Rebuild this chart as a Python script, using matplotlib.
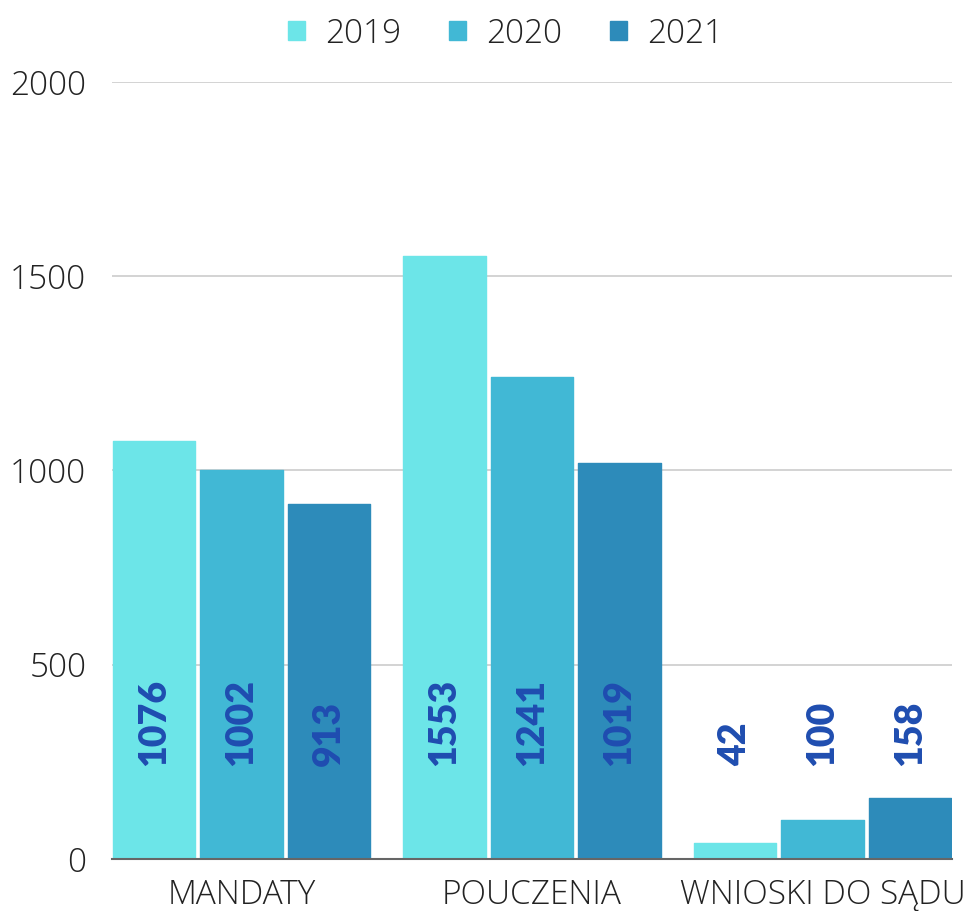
import matplotlib
matplotlib.use("Agg")
import matplotlib.pyplot as plt
import numpy as np

categories = ["MANDATY", "POUCZENIA", "WNIOSKI DO SĄDU"]
years = ["2019", "2020", "2021"]
values_2019 = [1076, 1553, 42]
values_2020 = [1002, 1241, 100]
values_2021 = [913, 1019, 158]
yticks = [0, 500, 1000, 1500, 2000]

colors = ["#6ce5e8", "#41b8d5", "#2d8bba"]
label_color = "#1f4db0"

plt.rcParams['font.family'] = ['Open Sans', 'DejaVu Sans']

fig = plt.figure(figsize=(9.67, 9.11), dpi=100)
ax = fig.add_axes([0.1158, 0.0571, 0.8687, 0.8529])

x = np.arange(len(categories))
step = 0.301
width = 0.285
series = [values_2019, values_2020, values_2021]

for i, (vals, year) in enumerate(zip(series, years)):
    pos = x + (i - 1) * step
    ax.bar(pos, vals, width=width, color=colors[i], label=year,
           edgecolor=colors[i], linewidth=1.0, joinstyle="round", zorder=3)
    for p, v in zip(pos, vals):
        ax.text(p, 240, str(v), rotation=90, ha="center", va="bottom",
                fontsize=27, fontweight="heavy", color=label_color,
                family=["Lato", "DejaVu Sans"], zorder=4)

ax.set_xlim(-0.446, 2.446)
ax.set_ylim(0, 2000)
ax.set_yticks(yticks)
ax.set_xticks(x)
ax.set_xticklabels(categories)
ax.yaxis.grid(True, color="#cccccc", linewidth=1.2, zorder=0)
ax.tick_params(axis="both", length=0, labelsize=24, colors="#222222")
ax.tick_params(axis="x", pad=14)
ax.tick_params(axis="y", pad=18.5)
for lbl in ax.get_yticklabels() + ax.get_xticklabels():
    lbl.set_fontweight("light")
for s in ["top", "right", "left"]:
    ax.spines[s].set_visible(False)
ax.spines["bottom"].set_color("#666666")
ax.spines["bottom"].set_linewidth(1.5)
ax.spines["bottom"].set_zorder(5)

leg = fig.legend(loc="upper center", bbox_to_anchor=(0.523, 1.014), ncol=3,
                 frameon=False, fontsize=24, handlelength=0.5, handleheight=0.5,
                 columnspacing=1.45, handletextpad=0.6)
for t in leg.get_texts():
    t.set_color("#222222")
    t.set_fontweight("light")

fig.savefig("out.png", dpi=100)
